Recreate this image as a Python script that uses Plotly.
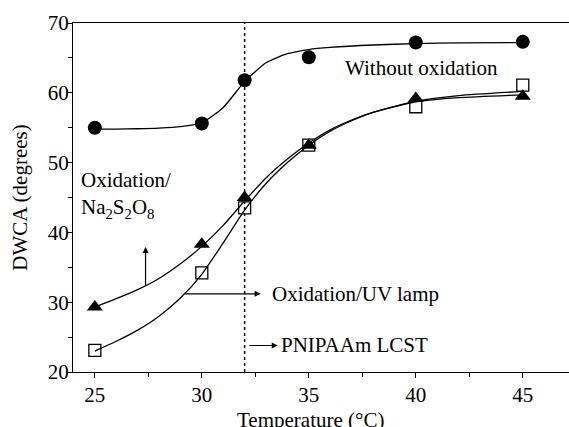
import plotly.graph_objects as go

# ---- measured data ----
temp = [25, 30, 32, 35, 40, 45]
dwca_without = [55.0, 55.6, 61.8, 65.1, 67.2, 67.3]
dwca_na2s2o8 = [29.3, 38.3, 45.0, 52.5, 59.2, 59.5]
dwca_uv = [23.1, 34.2, 43.5, 52.5, 58.0, 61.1]

# fitted curves
fit_x_without = [25, 26, 27, 28, 29, 30, 31, 32, 33, 34, 35, 36, 38, 40, 42, 45]
fit_y_without = [54.8, 54.8, 54.85, 54.95, 55.15, 55.7, 57.9, 61.6, 64.3, 65.6, 66.2, 66.5, 66.85, 67.05, 67.15, 67.2]

fit_x_ox = [25, 26, 27, 28, 29, 30, 31, 32, 33, 34, 35, 36, 37, 38, 40, 42, 45]
fit_y_na2s2o8 = [29.3, 30.5, 31.8, 33.4, 35.5, 38.0, 41.0, 44.5, 47.8, 50.5, 52.8, 54.7, 56.1, 57.2, 58.7, 59.3, 59.7]
fit_y_uv = [23.0, 24.4, 26.0, 28.0, 30.6, 34.0, 38.5, 43.2, 47.0, 50.0, 52.5, 54.5, 56.0, 57.2, 58.8, 59.6, 60.2]

lcst = 32
x_ticks = [25, 30, 35, 40, 45]
y_ticks = [20, 30, 40, 50, 60, 70]
x_title = "Temperature (°C)"
y_title = "DWCA (degrees)"

FONT = "Liberation Serif, Times New Roman, Times, serif"
FS = 21

fig = go.Figure()

line_style = dict(color="black", width=1.3, shape="spline", smoothing=0.6)
for fx, fy in [(fit_x_without, fit_y_without), (fit_x_ox, fit_y_na2s2o8), (fit_x_ox, fit_y_uv)]:
    fig.add_trace(go.Scatter(x=fx, y=fy, mode="lines", line=line_style,
                             showlegend=False, hoverinfo="skip"))

fig.add_trace(go.Scatter(x=temp, y=dwca_without, mode="markers",
                         marker=dict(symbol="circle", size=14, color="black"),
                         showlegend=False))
fig.add_trace(go.Scatter(x=temp, y=dwca_na2s2o8, mode="markers",
                         marker=dict(symbol="triangle-up", size=14, color="black"),
                         showlegend=False))
fig.add_trace(go.Scatter(x=temp, y=dwca_uv, mode="markers",
                         marker=dict(symbol="square-open", size=12, color="black",
                                     line=dict(width=1.3, color="black")),
                         showlegend=False))

# LCST dotted line
fig.add_shape(type="line", x0=lcst, x1=lcst, y0=20, y1=70, xref="x", yref="y",
              line=dict(color="black", width=1.5, dash="dot"))

tf = dict(family=FONT, size=FS, color="black")

fig.add_annotation(x=40.25, y=63.6, text="Without oxidation", showarrow=False, font=tf,
                   xanchor="center", yanchor="middle")
fig.add_annotation(x=24.26, y=45.3, text="Oxidation/<br>Na<sub>2</sub>S<sub>2</sub>O<sub>8</sub>",
                   showarrow=False, font=tf, xanchor="left", yanchor="middle", align="left")
fig.add_annotation(x=33.2, y=31.2, text="Oxidation/UV lamp", showarrow=False, font=tf,
                   xanchor="left", yanchor="middle")
fig.add_annotation(x=33.62, y=23.8, text="PNIPAAm LCST", showarrow=False, font=tf,
                   xanchor="left", yanchor="middle")

# x-axis title as paper annotation
fig.add_annotation(x=0.478, y=-0.1375, xref="paper", yref="paper", text=x_title,
                   showarrow=False, font=tf, xanchor="center", yanchor="middle")

arrow = dict(showarrow=True, arrowhead=2, arrowsize=1, arrowwidth=1.2, arrowcolor="black",
             text="", xref="x", yref="y", axref="x", ayref="y")
fig.add_annotation(x=27.37, y=37.9, ax=27.37, ay=32.1, **arrow)
fig.add_annotation(x=32.75, y=31.2, ax=29.15, ay=31.2, **arrow)
fig.add_annotation(x=33.55, y=23.8, ax=32.15, ay=23.8, **arrow)

axis_common = dict(showgrid=False, zeroline=False, showline=True, linecolor="black",
                   linewidth=1.3, ticks="outside", ticklen=5, tickwidth=1.2,
                   tickcolor="black", mirror=True, automargin=False,
                   tickfont=dict(family=FONT, size=FS, color="black"))

fig.update_xaxes(range=[23.98, 47.16], tickvals=x_ticks, ticklabelstandoff=-1,
                 minor=dict(dtick=2.5, tick0=25, ticks="outside", ticklen=4, tickcolor="black"),
                 **axis_common)
fig.update_yaxes(range=[20, 70], tickvals=y_ticks, ticklabelstandoff=-6,
                 minor=dict(dtick=5, tick0=20, ticks="outside", ticklen=4, tickcolor="black"),
                 title=dict(text=y_title, font=dict(family=FONT, size=FS, color="black"),
                            standoff=14),
                 **axis_common)

fig.update_layout(width=569, height=427, margin=dict(l=73, r=0, t=23, b=55),
                  plot_bgcolor="white", paper_bgcolor="white")

fig.write_html("out.html", config={"displayModeBar": False},
               post_script="document.body.style.margin='0';document.body.style.overflow='hidden';")
